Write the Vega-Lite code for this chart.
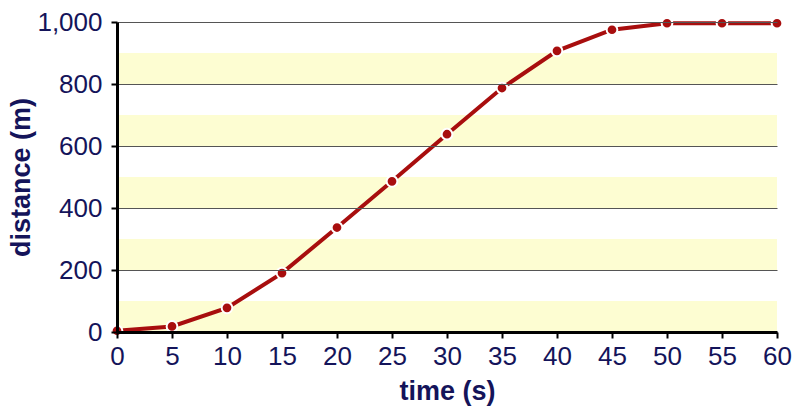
{
  "$schema": "https://vega.github.io/schema/vega-lite/v6.json",
  "width": 660,
  "height": 310,
  "autosize": "none",
  "padding": {"left": 117, "top": 22, "right": 23, "bottom": 78},
  "background": "white",
  "config": {"view": {"stroke": null}, "font": "Liberation Sans"},
  "datasets": {
    "pts": [
      {"t": 0, "d": 4}, {"t": 5, "d": 18}, {"t": 10, "d": 78}, {"t": 15, "d": 190},
      {"t": 20, "d": 337}, {"t": 25, "d": 486}, {"t": 30, "d": 638}, {"t": 35, "d": 787},
      {"t": 40, "d": 907}, {"t": 45, "d": 975}, {"t": 50, "d": 996}, {"t": 55, "d": 996}, {"t": 60, "d": 996}
    ],
    "bands": [
      {"lo": 0, "hi": 100}, {"lo": 200, "hi": 300}, {"lo": 400, "hi": 500},
      {"lo": 600, "hi": 700}, {"lo": 800, "hi": 900}
    ]
  },
  "layer": [
    {
      "data": {"name": "bands"},
      "mark": {"type": "rect", "color": "#FDFDD2", "x": 0, "x2": {"expr": "width"}},
      "encoding": {
        "y": {"field": "lo", "type": "quantitative", "scale": {"domain": [0, 1000], "nice": false},
          "axis": {
            "zindex": 1,
            "values": [0, 100, 200, 300, 400, 500, 600, 700, 800, 900, 1000],
            "labelExpr": "datum.value % 200 == 0 ? format(datum.value, ',') : ''",
            "title": "distance (m)",
            "titleFontSize": 27, "titleFontWeight": "bold", "titleColor": "#14145A",
            "titlePadding": 1,
            "labelFontSize": 26, "labelColor": "#14145A", "labelPadding": 9,
            "tickSize": 6, "tickColor": "#000", "tickWidth": 2,
            "domainColor": "#000", "domainWidth": 3,
            "grid": true, "gridColor": "#555", "gridWidth": 1, "gridOpacity": 1
          }},
        "y2": {"field": "hi"}
      }
    },
    {
      "data": {"name": "pts"},
      "mark": {"type": "line", "color": "#A80E0E", "strokeWidth": 4, "point": {"filled": true, "color": "#A80E0E", "size": 115, "stroke": "white", "strokeWidth": 2}},
      "encoding": {
        "x": {"field": "t", "type": "quantitative", "scale": {"domain": [0, 60], "nice": false},
          "axis": {
            "zindex": 1,
            "values": [0, 5, 10, 15, 20, 25, 30, 35, 40, 45, 50, 55, 60],
            "title": "time (s)",
            "titleFontSize": 27, "titleFontWeight": "bold", "titleColor": "#14145A",
            "titlePadding": 9,
            "labelFontSize": 26, "labelColor": "#14145A", "labelPadding": 5,
            "tickSize": 6, "tickColor": "#000", "tickWidth": 2,
            "domainColor": "#000", "domainWidth": 3, "grid": false, "labelFlush": false
          }},
        "y": {"field": "d", "type": "quantitative"}
      }
    }
  ]
}
